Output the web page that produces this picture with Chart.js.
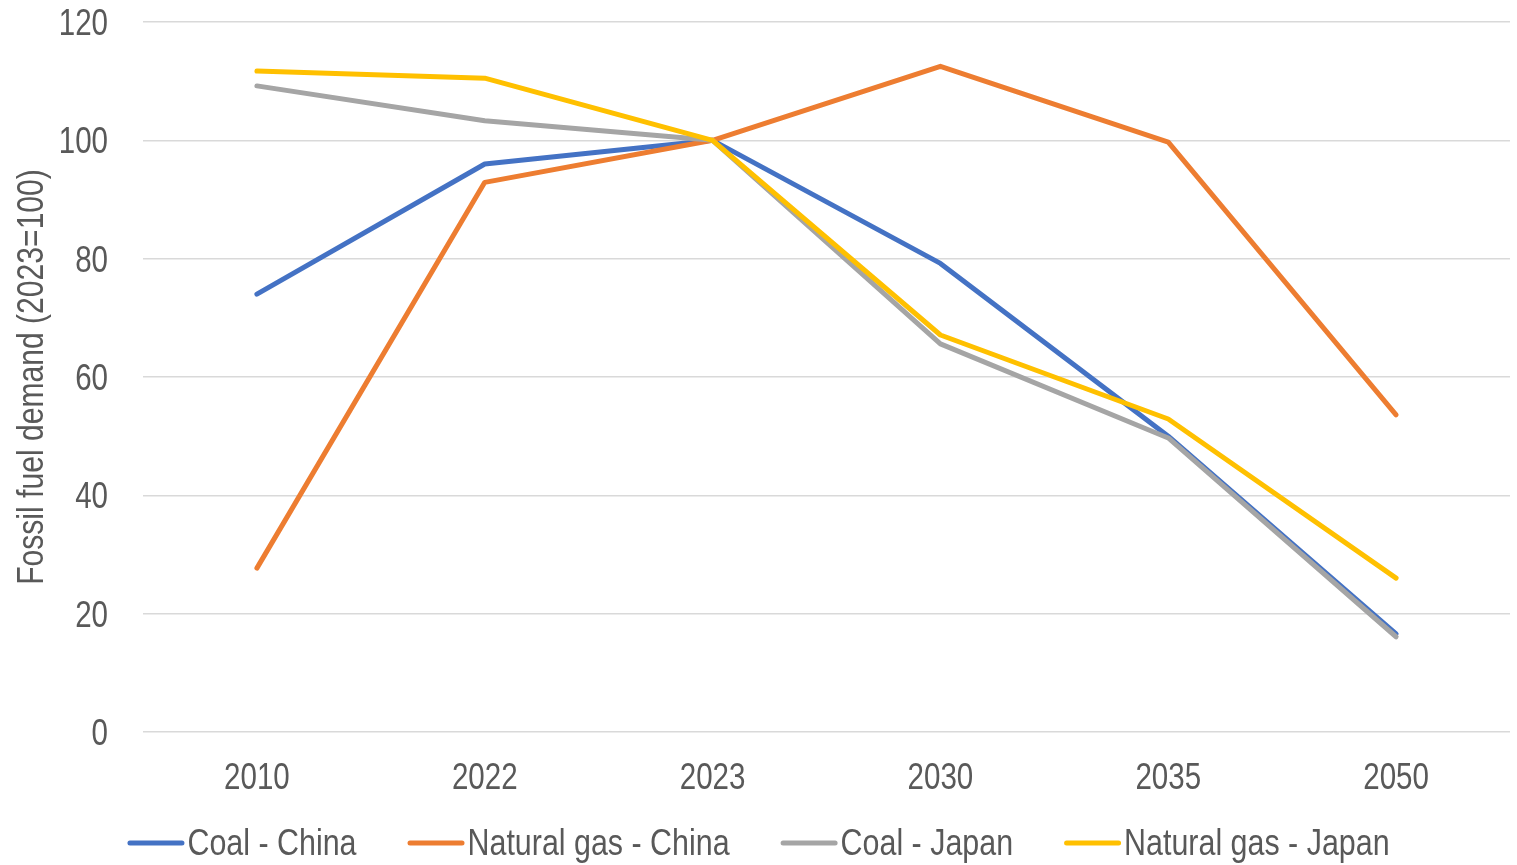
<!DOCTYPE html>
<html>
<head>
<meta charset="utf-8">
<script src="https://cdn.jsdelivr.net/npm/chart.js@4/dist/chart.umd.min.js"></script>
<style>
  html, body { margin: 0; padding: 0; background: #ffffff; }
  #wrap { width: 1517px; height: 865px; position: relative; }
</style>
</head>
<body>
<div id="wrap"><canvas id="chart"></canvas></div>
<script>
// Fossil fuel demand index (2023 = 100)
const years = ['2010', '2022', '2023', '2030', '2035', '2050'];
const coalChina = [74, 96, 100, 79.2, 50, 16.6];
const gasChina = [27.7, 92.9, 100, 112.5, 99.7, 53.6];
const coalJapan = [109.2, 103.3, 100, 65.6, 49.7, 16.1];
const gasJapan = [111.7, 110.5, 100, 67.1, 52.9, 26.0];
const seriesNames = ['Coal - China', 'Natural gas - China', 'Coal - Japan', 'Natural gas - Japan'];
const seriesColors = ['#4472C4', '#ED7D31', '#A5A5A5', '#FFC000'];
const yTicks = [0, 20, 40, 60, 80, 100, 120];
const yTitle = 'Fossil fuel demand (2023=100)';

const FONT = '"Liberation Sans", Arial, sans-serif';
const FONT_SIZE = 36;
const TEXT = '#595959';

// horizontal squeeze giving a narrow face
function narrowText(ctx, str, x, y, align, squeeze, angle) {
  ctx.save();
  ctx.translate(x, y);
  if (angle) ctx.rotate(angle);
  ctx.scale(squeeze, 1);
  ctx.textAlign = align;
  ctx.textBaseline = 'middle';
  ctx.fillText(str, 0, 0);
  ctx.restore();
}

// Axis labels, axis title and legend, all set in the narrow face
const narrowLabels = {
  id: 'narrowLabels',
  afterDraw(chart) {
    const ctx = chart.ctx;
    const xs = chart.scales.x, ys = chart.scales.y, area = chart.chartArea;
    ctx.save();
    ctx.font = FONT_SIZE + 'px ' + FONT;
    ctx.fillStyle = TEXT;

    ys.ticks.forEach(t => narrowText(ctx, String(t.value), 108, ys.getPixelForValue(t.value) + 3, 'right', 0.82));
    xs.ticks.forEach((t, i) => narrowText(ctx, xs.getLabelForValue(t.value), xs.getPixelForTick(i), 779, 'center', 0.82));
    narrowText(ctx, yTitle, 33, (area.top + area.bottom) / 2, 'center', 0.836, -Math.PI / 2);

    // legend row: line sample followed by the series name
    const squeeze = 0.845, sample = 57, gap = 3, spacing = 51, y = 843;
    const items = chart.data.datasets.map(ds => ({
      label: ds.label, color: ds.borderColor,
      w: sample + gap + ctx.measureText(ds.label).width * squeeze
    }));
    const total = items.reduce((s, it) => s + it.w, 0) + spacing * (items.length - 1);
    let x = chart.width / 2 - total / 2;
    items.forEach(it => {
      ctx.strokeStyle = it.color;
      ctx.lineWidth = 5;
      ctx.lineCap = 'round';
      ctx.beginPath();
      ctx.moveTo(x + 2.5, y);
      ctx.lineTo(x + sample - 2.5, y);
      ctx.stroke();
      narrowText(ctx, it.label, x + sample + gap, y + 2, 'left', squeeze);
      x += it.w + spacing;
    });
    ctx.restore();
  }
};

const seriesValues = [coalChina, gasChina, coalJapan, gasJapan];

new Chart(document.getElementById('chart'), {
  type: 'line',
  data: {
    labels: years,
    datasets: seriesValues.map((vals, i) => ({
      label: seriesNames[i],
      data: vals,
      borderColor: seriesColors[i],
      backgroundColor: seriesColors[i],
      borderWidth: 5,
      borderCapStyle: 'round',
      borderJoinStyle: 'round',
      pointRadius: 0,
      pointHoverRadius: 0,
      tension: 0,
      fill: false,
      order: seriesValues.length - i
    }))
  },
  options: {
    responsive: true,
    maintainAspectRatio: false,
    animation: false,
    layout: { padding: { top: 22, right: 7, bottom: 0, left: 0 } },
    plugins: {
      legend: { display: false },
      tooltip: { enabled: false }
    },
    scales: {
      x: {
        offset: true,
        grid: { display: false, drawTicks: false },
        border: { display: false },
        ticks: { display: false },
        afterFit(scale) { scale.height = 865 - 732; }
      },
      y: {
        min: 0,
        max: 120,
        afterBuildTicks(scale) { scale.ticks = yTicks.map(v => ({ value: v })); },
        grid: { color: '#D9D9D9', lineWidth: 1.5, drawTicks: false },
        border: { display: false },
        ticks: { display: false },
        afterFit(scale) { scale.width = 143; }
      }
    }
  },
  plugins: [narrowLabels]
});
</script>
</body>
</html>
